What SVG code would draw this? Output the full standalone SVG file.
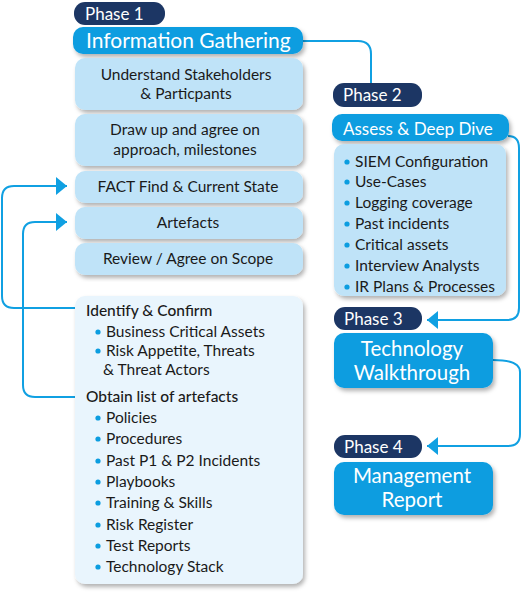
<svg xmlns="http://www.w3.org/2000/svg" width="522" height="596" viewBox="0 0 522 596">
<defs>
<filter id="sh" x="-10%" y="-10%" width="125%" height="130%">
<feDropShadow dx="2" dy="3" stdDeviation="2" flood-color="#000" flood-opacity="0.3"/>
</filter>
<marker id="ar" viewBox="0 0 11 18" refX="11" refY="9" markerWidth="11" markerHeight="18" markerUnits="userSpaceOnUse" orient="auto">
<path d="M0,0 L11,9 L0,18 Z" fill="#10a0e2"/>
</marker>
</defs>
<style>
text{font-family:Lato,"Open Sans","Liberation Sans",sans-serif;}
.pill{fill:#1c3664;}
.pt{fill:#fff;font-size:17px;}
.hd{fill:#0b9de0;filter:url(#sh);}
.ht{fill:#fff;}
.lb{fill:#bfe3f8;filter:url(#sh);}
.xb{fill:#e9f5fd;filter:url(#sh);}
.t{fill:#1a1a1a;font-size:15.5px;}
.c{text-anchor:middle;}
.b{fill:#0b9de0;}
.con{fill:none;stroke:#10a0e2;stroke-width:2;}
</style>
<g id="connectors">
<path class="con" d="M303,41 H358 Q371,41 371,54 V83"/>
<path class="con" d="M508,136 Q519,136 519,148 V308 Q519,320 507,320 H427" marker-end="url(#ar)"/>
<path class="con" d="M493,360 Q520,360 520,372 V434 Q520,446 508,446 H427" marker-end="url(#ar)"/>
<path class="con" d="M75,308 H14 Q2,308 2,296 V198 Q2,186 14,186 H67" marker-end="url(#ar)"/>
<path class="con" d="M75,397 H35 Q23,397 23,385 V234 Q23,222 35,222 H67" marker-end="url(#ar)"/>
</g>
<g id="phase1">
<rect class="pill" x="74" y="2" width="91" height="23" rx="11"/>
<text class="pt" x="85" y="20">Phase 1</text>
</g>
<g id="info-gathering">
<rect class="hd" x="73" y="27" width="230" height="27" rx="10"/>
<text class="ht" x="86" y="48" font-size="21">Information Gathering</text>
</g>
<g id="stakeholders">
<rect class="lb" x="75" y="58" width="228" height="52" rx="10"/>
<text class="t c" x="186" y="80">Understand Stakeholders</text>
<text class="t c" x="186" y="99">&amp; Particpants</text>
</g>
<g id="approach">
<rect class="lb" x="75" y="114" width="228" height="52" rx="10"/>
<text class="t c" x="185" y="135">Draw up and agree on</text>
<text class="t c" x="185" y="155">approach, milestones</text>
</g>
<g id="fact-find">
<rect class="lb" x="75" y="171" width="228" height="32" rx="10"/>
<text class="t c" x="188" y="192">FACT Find &amp; Current State</text>
</g>
<g id="artefacts">
<rect class="lb" x="75" y="207" width="228" height="32" rx="10"/>
<text class="t c" x="188" y="228">Artefacts</text>
</g>
<g id="review">
<rect class="lb" x="75" y="243" width="228" height="32" rx="10"/>
<text class="t c" x="188" y="264">Review / Agree on Scope</text>
</g>
<g id="identify-list">
<rect class="xb" x="75" y="296" width="228" height="288" rx="10"/>
<text class="t" x="86" y="316" font-weight="500">Identify &amp; Confirm</text>
<circle class="b" cx="98" cy="332" r="2.6"/>
<text class="t" x="106" y="337">Business Critical Assets</text>
<circle class="b" cx="98" cy="351" r="2.6"/>
<text class="t" x="106" y="356">Risk Appetite, Threats</text>
<text class="t" x="103" y="375">&amp; Threat Actors</text>
<text class="t" x="86" y="402" font-weight="500">Obtain list of artefacts</text>
<circle class="b" cx="98" cy="418" r="2.6"/>
<text class="t" x="106" y="423">Policies</text>
<circle class="b" cx="98" cy="439" r="2.6"/>
<text class="t" x="106" y="444">Procedures</text>
<circle class="b" cx="98" cy="461" r="2.6"/>
<text class="t" x="106" y="466">Past P1 &amp; P2 Incidents</text>
<circle class="b" cx="98" cy="482" r="2.6"/>
<text class="t" x="106" y="487">Playbooks</text>
<circle class="b" cx="98" cy="503" r="2.6"/>
<text class="t" x="106" y="508">Training &amp; Skills</text>
<circle class="b" cx="98" cy="525" r="2.6"/>
<text class="t" x="106" y="530">Risk Register</text>
<circle class="b" cx="98" cy="546" r="2.6"/>
<text class="t" x="106" y="551">Test Reports</text>
<circle class="b" cx="98" cy="567" r="2.6"/>
<text class="t" x="106" y="572">Technology Stack</text>
</g>
<g id="phase2">
<rect class="pill" x="333" y="83" width="89" height="24" rx="11"/>
<text class="pt" x="343" y="101">Phase 2</text>
</g>
<g id="assess">
<rect class="hd" x="332" y="114" width="177" height="27" rx="10"/>
<text class="ht" x="343" y="135" font-size="17">Assess &amp; Deep Dive</text>
</g>
<g id="assess-list">
<rect class="lb" x="334" y="144" width="172" height="152" rx="10"/>
<circle class="b" cx="347" cy="162" r="2.6"/>
<text class="t" x="355" y="167">SIEM Configuration</text>
<circle class="b" cx="347" cy="182" r="2.6"/>
<text class="t" x="355" y="187">Use-Cases</text>
<circle class="b" cx="347" cy="203" r="2.6"/>
<text class="t" x="355" y="208">Logging coverage</text>
<circle class="b" cx="347" cy="224" r="2.6"/>
<text class="t" x="355" y="229">Past incidents</text>
<circle class="b" cx="347" cy="245" r="2.6"/>
<text class="t" x="355" y="250">Critical assets</text>
<circle class="b" cx="347" cy="266" r="2.6"/>
<text class="t" x="355" y="271">Interview Analysts</text>
<circle class="b" cx="347" cy="287" r="2.6"/>
<text class="t" x="355" y="292">IR Plans &amp; Processes</text>
</g>
<g id="phase3">
<rect class="pill" x="334" y="307" width="88" height="23" rx="11"/>
<text class="pt" x="344" y="325">Phase 3</text>
</g>
<g id="tech-walkthrough">
<rect class="hd" x="334" y="333" width="159" height="55" rx="10"/>
<text class="ht c" x="412" y="356" font-size="20.5">Technology</text>
<text class="ht c" x="412" y="380" font-size="20.5">Walkthrough</text>
</g>
<g id="phase4">
<rect class="pill" x="334" y="435" width="88" height="23" rx="11"/>
<text class="pt" x="344" y="453">Phase 4</text>
</g>
<g id="mgmt-report">
<rect class="hd" x="334" y="462" width="159" height="53" rx="10"/>
<text class="ht c" x="412" y="483" font-size="20.5">Management</text>
<text class="ht c" x="412" y="507" font-size="20.5">Report</text>
</g>
</svg>
